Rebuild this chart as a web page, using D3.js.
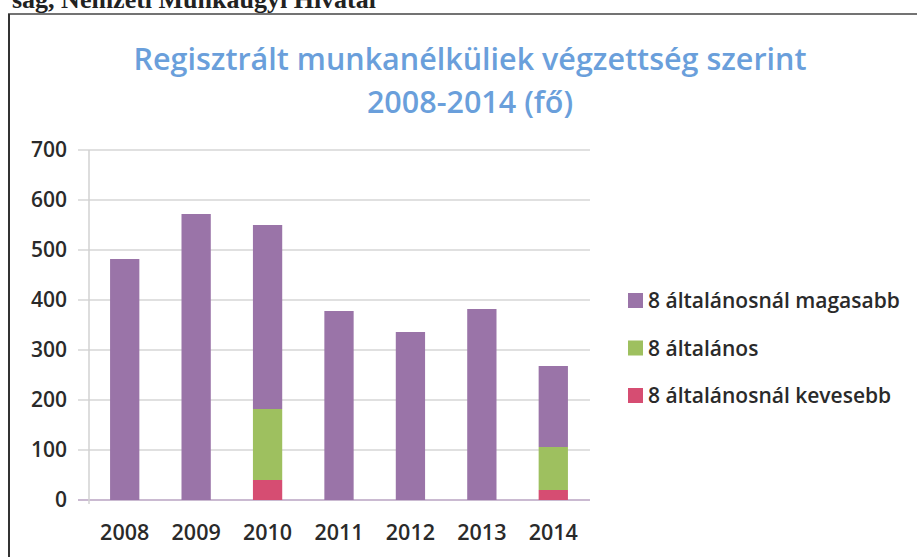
<!DOCTYPE html>
<html><head><meta charset="utf-8">
<script src="https://cdn.jsdelivr.net/npm/d3@7"></script>
<style>body{margin:0;background:#fff;} svg{display:block;}</style>
</head><body>
<svg id="c" width="917" height="557"></svg>
<script>
const years = ["2008","2009","2010","2011","2012","2013","2014"];
const below8 = [0, 0, 40, 0, 0, 0, 20];
const exactly8 = [0, 0, 142, 0, 0, 0, 86];
const above8 = [482, 572, 368, 378, 336, 382, 162];
const seriesNames = ["8 általánosnál magasabb", "8 általános", "8 általánosnál kevesebb"];
const yTicks = [0,100,200,300,400,500,600,700];
const colors = {"below":"#d64d72","exact":"#9ec05f","above":"#9a74a8"};

const svg = d3.select("#c");
const font = "Open Sans, Noto Sans, sans-serif";

// scan header and frame
svg.append("text").attr("x", 376).attr("y", 8).attr("text-anchor","end")
  .attr("font-family","Liberation Serif").attr("font-weight","bold").attr("font-size",26)
  .attr("fill","#222").text("ság, Nemzeti Munkaügyi Hivatal");
svg.append("line").attr("x1",8).attr("x2",917).attr("y1",14).attr("y2",14).attr("stroke","#444").attr("stroke-width",1.5);
svg.append("line").attr("x1",9).attr("x2",9).attr("y1",14).attr("y2",557).attr("stroke","#333").attr("stroke-width",2);

// title
const title = svg.append("text").attr("text-anchor","middle").attr("font-family",font)
  .attr("font-weight","600").attr("font-size",30.5).attr("fill","#6a9fdb");
title.append("tspan").attr("x",470).attr("y",70).text("Regisztrált munkanélküliek végzettség szerint");
title.append("tspan").attr("x",470).attr("y",113).text("2008-2014 (fő)");

const x = d3.scaleBand().domain(years).range([89, 589]).paddingInner(0.59).paddingOuter(0.295);
const y = d3.scaleLinear().domain([0,700]).range([500,150]);

// gridlines
svg.append("g").selectAll("line").data(yTicks).join("line")
  .attr("x1",78).attr("x2",590).attr("y1",d=>y(d)).attr("y2",d=>y(d))
  .attr("stroke",d=>d===0?"#b9a3c2":"#d6d6d6").attr("stroke-width",1.5);
svg.append("line").attr("x1",89).attr("x2",89).attr("y1",y(700)).attr("y2",y(0)+4).attr("stroke","#d2d2d2").attr("stroke-width",1.5);

// stacked data
const data = years.map((yr,i)=>({year:yr, below:below8[i], exact:exactly8[i], above:above8[i]}));
const stack = d3.stack().keys(["below","exact","above"])(data);
svg.append("g").selectAll("g").data(stack).join("g").attr("fill",d=>colors[d.key])
  .selectAll("rect").data(d=>d).join("rect")
  .attr("x",d=>x(d.data.year)).attr("width",x.bandwidth())
  .attr("y",d=>y(d[1])).attr("height",d=>y(d[0])-y(d[1]));

// y axis labels
svg.append("g").selectAll("text").data(yTicks).join("text")
  .attr("x",67).attr("y",d=>y(d)+7).attr("text-anchor","end")
  .attr("font-family",font).attr("font-weight","600").attr("font-size",21).attr("fill","#2a2a2a")
  .text(d=>d);

// x axis labels
svg.append("g").selectAll("text").data(years).join("text")
  .attr("x",d=>x(d)+x.bandwidth()/2).attr("y",540).attr("text-anchor","middle")
  .attr("font-family",font).attr("font-weight","600").attr("font-size",21.5).attr("fill","#2a2a2a")
  .text(d=>d);

// legend
const legColors = [colors.above, colors.exact, colors.below];
const lg = svg.append("g").selectAll("g").data(seriesNames).join("g")
  .attr("transform",(d,i)=>`translate(628,${300+i*47.5})`);
lg.append("rect").attr("x",0).attr("y",-7).attr("width",15).attr("height",15).attr("fill",(d,i)=>legColors[i]);
lg.append("text").attr("x",20).attr("y",8).attr("font-family",font).attr("font-weight","600")
  .attr("font-size",21).attr("fill","#2a2a2a").text(d=>d);
</script>
</body></html>
